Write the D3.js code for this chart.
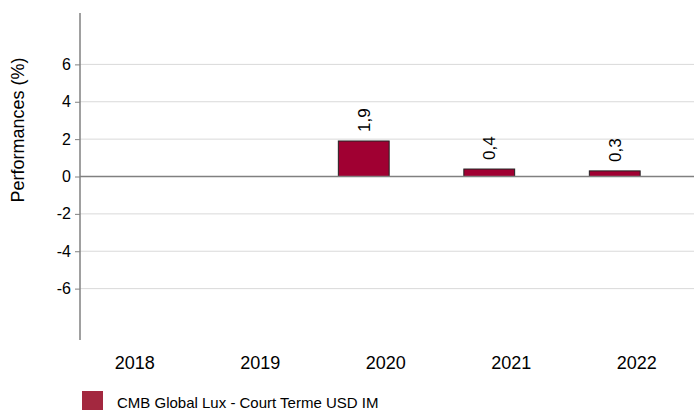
<!DOCTYPE html>
<html><head><meta charset="utf-8">
<script src="https://cdn.jsdelivr.net/npm/d3@7"></script>
<style>
html,body{margin:0;padding:0;background:#fff;}
svg{display:block;font-family:"Liberation Sans",Arial,sans-serif;}
</style></head>
<body>
<svg id="chart" width="694" height="410"></svg>
<script>
const categories = ["2018","2019","2020","2021","2022"];
const values = [null, null, 1.9, 0.4, 0.3];
const valueLabels = ["", "", "1,9", "0,4", "0,3"];
const yTicks = [-6,-4,-2,0,2,4,6];
const seriesName = "CMB Global Lux - Court Terme USD IM";
const yTitle = "Performances (%)";

const svg = d3.select("#chart");
const axisX = 80, rightX = 694;
const y = d3.scaleLinear().domain([-8.75, 8.75]).range([340, 13]);
const x = d3.scaleBand().domain(categories).range([50, 677.5]).padding(0);
const barW = x.bandwidth() * 0.405;
const labelOffset = 22;

// gridlines
svg.append("g").selectAll("line").data(yTicks.filter(d => d !== 0)).join("line")
  .attr("x1", axisX).attr("x2", rightX)
  .attr("y1", d => y(d)).attr("y2", d => y(d))
  .attr("stroke", "#d9d9d9").attr("stroke-width", 1);

// y axis
const yAxis = d3.axisLeft(y).tickValues(yTicks).tickSize(5).tickPadding(4).tickFormat(d3.format("d"));
const gy = svg.append("g").attr("transform", `translate(${axisX},0)`).call(yAxis);
gy.select(".domain").remove();
gy.selectAll(".tick line").attr("stroke", "#808080");
gy.selectAll(".tick text").attr("font-size", 16).attr("fill", "#000")
  .attr("font-family", "Liberation Sans, Arial, sans-serif");
gy.selectAll(".tick text").text(d => d < 0 ? "-" + Math.abs(d) : d);

svg.append("line").attr("x1", axisX).attr("x2", axisX).attr("y1", 13).attr("y2", 340)
  .attr("stroke", "#808080").attr("stroke-width", 1.5);

// bars
const data = categories.map((c, i) => ({c, v: values[i], l: valueLabels[i]})).filter(d => d.v !== null);
svg.append("g").selectAll("rect").data(data).join("rect")
  .attr("x", d => x(d.c) + (x.bandwidth() - barW) / 2)
  .attr("width", barW)
  .attr("y", d => y(Math.max(0, d.v)))
  .attr("height", d => Math.abs(y(d.v) - y(0)))
  .attr("fill", "#a00032").attr("stroke", "#222").attr("stroke-width", 1);

// zero line
svg.append("line").attr("x1", axisX).attr("x2", rightX).attr("y1", y(0)).attr("y2", y(0))
  .attr("stroke", "#808080").attr("stroke-width", 1.5);

// value labels
svg.append("g").selectAll("text").data(data).join("text")
  .attr("transform", d => `translate(${x(d.c) + x.bandwidth() / 2 + 6},${y(Math.max(0, d.v)) - 9}) rotate(-90)`)
  .attr("font-size", 17).attr("fill", "#000")
  .text(d => d.l);

// x labels
svg.append("g").selectAll("text").data(categories).join("text")
  .attr("x", d => x(d) + x.bandwidth() / 2 + labelOffset)
  .attr("y", 369)
  .attr("text-anchor", "middle").attr("font-size", 18).attr("fill", "#000")
  .text(d => d);

// y title
svg.append("text")
  .attr("transform", `translate(24,130) rotate(-90)`)
  .attr("text-anchor", "middle").attr("font-size", 18).attr("fill", "#000")
  .text(yTitle);

// legend
svg.append("rect").attr("x", 82).attr("y", 391).attr("width", 21).attr("height", 20).attr("fill", "#a3283f");
svg.append("text").attr("x", 117).attr("y", 408).attr("font-size", 15).attr("fill", "#000").text(seriesName);
</script>
</body></html>
